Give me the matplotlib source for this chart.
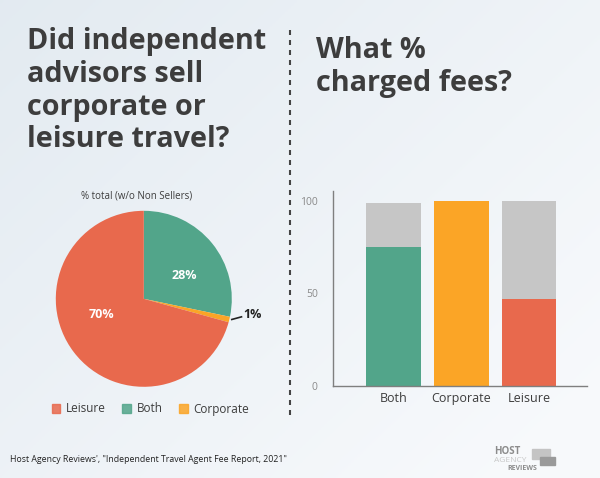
import numpy as np
import matplotlib
matplotlib.use('Agg')
import matplotlib.pyplot as plt
from matplotlib.patches import Rectangle
from matplotlib.lines import Line2D

# pie: what advisors sold (% total, w/o non sellers)
pie_labels = ['Both', 'Corporate', 'Leisure']
pie_values = [28, 1, 70]
pie_colors = ['#52A58A', '#FBA526', '#E8694D']
legend_order = ['Leisure', 'Both', 'Corporate']

# bars: % that charged fees
bar_cats = ['Both', 'Corporate', 'Leisure']
charged = [75, 100, 47]
not_charged = [24, 0, 53]
bar_colors = ['#52A58A', '#FBA526', '#E8694D']
rest_color = '#C6C6C6'
yticks = [0, 50, 100]

txt = '#3d3d3d'
plt.rcParams['font.family'] = ['Open Sans', 'DejaVu Sans']

W, H = 600, 478
fig = plt.figure(figsize=(6, 4.78), dpi=100)

# soft background gradient
bg = fig.add_axes([0, 0, 1, 1], zorder=-10)
xx, yy = np.meshgrid(np.linspace(0, 1, 200), np.linspace(0, 1, 160))
c0 = np.array([0.89, 0.92, 0.945])
c1 = np.array([0.97, 0.978, 0.988])
t = np.clip(0.6 * xx + 0.5 * yy, 0, 1)[..., None]
bg.imshow(c0 + (c1 - c0) * t, aspect='auto', extent=[0, 1, 0, 1], origin='upper')
bg.axis('off')

def px(x, y):
    return x / W, 1 - y / H

# titles, one line at a time
left_title = ['Did independent', 'advisors sell', 'corporate or', 'leisure travel?']
for i, line in enumerate(left_title):
    fig.text(*px(27, 49.5 + i * 32.5), line, fontsize=20.7, fontweight='bold',
             color=txt, va='baseline', ha='left')
right_title = ['What %', 'charged fees?']
for i, line in enumerate(right_title):
    fig.text(*px(316, 58.5 + i * 33), line, fontsize=20.7, fontweight='bold',
             color=txt, va='baseline', ha='left')

# dashed divider
fig.add_artist(Line2D([290 / W, 290 / W], [1 - 30 / H, 1 - 415 / H],
                      transform=fig.transFigure, color='#444444', lw=1.5,
                      dashes=(2.4, 2.4)))

# pie
r = 88
ax_pie = fig.add_axes([(143.8 - r) / W, (H - 298.8 - r) / H, 2 * r / W, 2 * r / H])
wedges, _ = ax_pie.pie(pie_values, colors=pie_colors, startangle=90,
                       counterclock=False, radius=1)
ax_pie.set_xlim(-1, 1)
ax_pie.set_ylim(-1, 1)
ax_pie.text(0.457, 0.27, f'{pie_values[0]}%', color='white', fontsize=9,
            fontweight='bold', ha='center', va='center')
ax_pie.text(-0.478, -0.176, f'{pie_values[2]}%', color='white', fontsize=9,
            fontweight='bold', ha='center', va='center')
ax_pie.text(1.13, -0.173, f'{pie_values[1]}%', color='#222222', fontsize=9,
            fontweight='bold', ha='left', va='center')
ax_pie.plot([1.0, 1.11], [-0.235, -0.205], color='#222222', lw=1.2, clip_on=False)
fig.text(*px(136.7, 196), '% total (w/o Non Sellers)', fontsize=7, color=txt,
         ha='center', va='center')

handles = [Rectangle((0, 0), 1, 1, color=pie_colors[pie_labels.index(k)], alpha=0.85)
           for k in legend_order]
fig.legend(handles, legend_order, loc='center', bbox_to_anchor=px(150.5, 409),
           ncol=3, frameon=False, fontsize=8.5, handlelength=0.74, handleheight=0.74,
           handletextpad=0.48, columnspacing=1.4, labelcolor=txt)

# stacked bars
ax = fig.add_axes([333 / W, (H - 386) / H, 254 / W, 195 / H])
x = np.arange(len(bar_cats))
ax.bar(x, charged, width=0.8, color=bar_colors)
ax.bar(x, not_charged, width=0.8, bottom=charged, color=rest_color)
ax.set_xlim(-0.89, 2.85)
ax.set_ylim(0, 105.4)
ax.set_xticks(x, bar_cats)
ax.set_yticks(yticks)
ax.tick_params(axis='x', length=0, pad=4, labelsize=9, labelcolor=txt)
ax.tick_params(axis='y', length=0, pad=11, labelsize=7.5, labelcolor='#8a8a8a')
ax.set_facecolor('none')
for s in ['top', 'right']:
    ax.spines[s].set_visible(False)
for s in ['left', 'bottom']:
    ax.spines[s].set_color('#7f7f7f')
    ax.spines[s].set_linewidth(1)

# footer + logo
fig.text(*px(10, 459), 'Host Agency Reviews\', "Independent Travel Agent Fee Report, 2021"',
         fontsize=6.3, color='#222222', ha='left', va='center')
fig.add_artist(Rectangle(px(532, 459), 18 / W, 10 / H, transform=fig.transFigure,
                         color='#c4c4c4'))
fig.add_artist(Rectangle(px(540, 465), 15 / W, 8 / H, transform=fig.transFigure,
                         color='#9a9a9a'))
fig.text(*px(494, 452), 'HOST', fontsize=7, fontweight='bold', color='#8c8c8c',
         ha='left', va='center')
fig.text(*px(494, 460), 'AGENCY', fontsize=6, color='#c8c8c8', ha='left', va='center')
fig.text(*px(507, 468.5), 'REVIEWS', fontsize=5, fontweight='bold', color='#8c8c8c',
         ha='left', va='center')

fig.savefig('out.png', dpi=100)
